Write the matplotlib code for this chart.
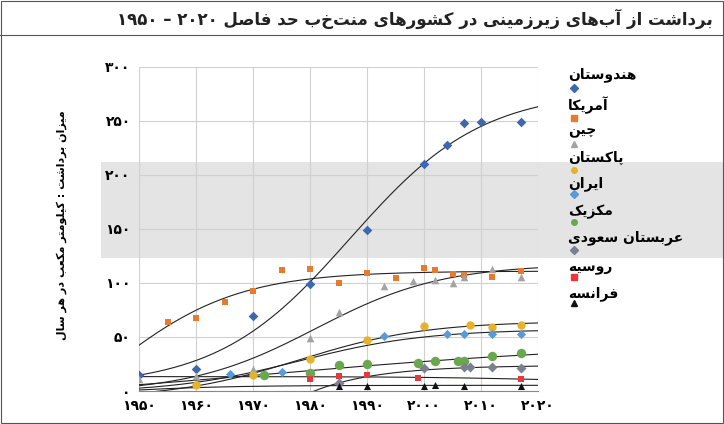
import numpy as np
import matplotlib
matplotlib.use("Agg")
import matplotlib.pyplot as plt
from matplotlib.patches import Rectangle
from matplotlib.lines import Line2D

# ---------- minimal Persian shaping ----------
FORMS = {
 'ا':(0xFE8D,0xFE8E,None,None),'آ':(0xFE81,0xFE82,None,None),
 'ب':(0xFE8F,0xFE90,0xFE91,0xFE92),'پ':(0xFB56,0xFB57,0xFB58,0xFB59),
 'ت':(0xFE95,0xFE96,0xFE97,0xFE98),'ج':(0xFE9D,0xFE9E,0xFE9F,0xFEA0),
 'چ':(0xFB7A,0xFB7B,0xFB7C,0xFB7D),'ح':(0xFEA1,0xFEA2,0xFEA3,0xFEA4),
 'د':(0xFEA9,0xFEAA,None,None),'ر':(0xFEAD,0xFEAE,None,None),
 'ز':(0xFEAF,0xFEB0,None,None),'س':(0xFEB1,0xFEB2,0xFEB3,0xFEB4),
 'ش':(0xFEB5,0xFEB6,0xFEB7,0xFEB8),'ص':(0xFEB9,0xFEBA,0xFEBB,0xFEBC),
 'ع':(0xFEC9,0xFECA,0xFECB,0xFECC),'ف':(0xFED1,0xFED2,0xFED3,0xFED4),
 'ق':(0xFED5,0xFED6,0xFED7,0xFED8),'ک':(0xFB8E,0xFB8F,0xFB90,0xFB91),
 'گ':(0xFB92,0xFB93,0xFB94,0xFB95),'ل':(0xFEDD,0xFEDE,0xFEDF,0xFEE0),
 'م':(0xFEE1,0xFEE2,0xFEE3,0xFEE4),'ن':(0xFEE5,0xFEE6,0xFEE7,0xFEE8),
 'و':(0xFEED,0xFEEE,None,None),'ه':(0xFEE9,0xFEEA,0xFEEB,0xFEEC),
 'ی':(0xFBFC,0xFBFD,0xFBFE,0xFBFF),
}
def _shape_word(w):
    out = []
    n = len(w)
    for i, c in enumerate(w):
        if c not in FORMS:
            if c != '\u200c':
                out.append(c)
            continue
        iso, fin, ini, med = FORMS[c]
        prev = w[i-1] if i > 0 else None
        nxt = w[i+1] if i < n-1 else None
        jp = prev in FORMS and FORMS[prev][2] is not None
        jn = nxt in FORMS and ini is not None
        if jp and jn: f = med
        elif jp: f = fin
        elif jn: f = ini
        else: f = iso
        out.append(chr(f))
    return ''.join(out)
def fa(s):
    runs, cur, isd = [], '', None
    for ch in s:
        d = ch in '۰۱۲۳۴۵۶۷۸۹0123456789'
        if isd is None or d == isd:
            cur += ch
        else:
            runs.append((cur, isd)); cur = ch
        isd = d
    if cur: runs.append((cur, isd))
    vis = []
    for t, d in reversed(runs):
        vis.append(t if d else _shape_word(t)[::-1])
    return ''.join(vis)
def pdig(n):
    return ''.join('۰۱۲۳۴۵۶۷۸۹'[int(c)] for c in str(n))

# ---------- data ----------
india_x = [1950,1960,1970,1980,1990,2000,2004,2007,2010,2017]
india_y = [15,20,69,99,149,210,228,248,249,249]
us_x = [1955,1960,1965,1970,1975,1980,1985,1990,1995,2000,2002,2005,2007,2012,2017]
us_y = [64,68,82,93,112,113,100,109,105,114,112,108,107,106,111]
china_x = [1950,1960,1970,1980,1985,1993,1998,2002,2005,2007,2012,2017]
china_y = [11,14,20,49,73,97,102,103,100,106,113,106]
pak_x = [1960,1970,1980,1990,2000,2008,2012,2017]
pak_y = [6,15,30,47,60,61,59,61]
iran_x = [1966,1975,1993,2004,2007,2012,2017]
iran_y = [16,18,51,53,53,53,53]
mex_x = [1972,1980,1985,1990,1999,2002,2006,2007,2012,2017]
mex_y = [15,17,24,25,26,28,28,28,32,35]
saudi_x = [1985,2000,2007,2008,2012,2017]
saudi_y = [7,21,22,22,22,21]
russia_x = [1980,1985,1990,1999,2017]
russia_y = [11,14,15,12,11]
france_x = [1985,1990,2000,2002,2007,2017]
france_y = [5,5,5,6,5,5]

names = ['هندوستان','آمریکا','چین','پاکستان','ایران','مکزیک','عربستان سعودی','روسیه','فرانسه']
series = [(india_x,india_y),(us_x,us_y),(china_x,china_y),(pak_x,pak_y),(iran_x,iran_y),
          (mex_x,mex_y),(saudi_x,saudi_y),(russia_x,russia_y),(france_x,france_y)]
colors = ['#3d68b0','#e87a2e','#a3a3a3','#e6b22c','#5b9bd5','#6aa84f','#7a8090','#e8383d','#111111']
markers = ['D','s','^','o','D','o','D','s','^']
msizes = [24,24,30,36,22,46,26,14,26]
xticks = [1950,1960,1970,1980,1990,2000,2010,2020]
yticks = [0,50,100,150,200,250,300]

def logistic_fit(x, y):
    x = np.asarray(x, float); y = np.asarray(y, float)
    best = None
    for k in np.linspace(0.03, 0.09, 31):
        for x0 in np.linspace(1940, 2020, 81):
            s = 1/(1+np.exp(-k*(x-x0)))
            A = np.vstack([np.ones_like(s), s]).T
            coef, *_ = np.linalg.lstsq(A, y, rcond=None)
            err = np.sum((A@coef - y)**2)
            if best is None or err < best[0]:
                best = (err, k, x0, coef)
    _, k, x0, coef = best
    return lambda t: coef[0] + coef[1]/(1+np.exp(-k*(t-x0)))

# ---------- figure ----------
plt.rcParams['font.family'] = ['DejaVu Sans']
fig = plt.figure(figsize=(7.24, 4.24), dpi=100)
fig.patches.append(Rectangle((0.14, (424-258)/424), 0.86, 96/424, transform=fig.transFigure,
                             facecolor='#e4e4e4', edgecolor='none', zorder=-5))
fig.patches.append(Rectangle((0.002, 0.002), 0.996, 0.996, transform=fig.transFigure,
                             facecolor='none', edgecolor='#555555', lw=0.8))
fig.add_artist(Line2D([0.0, 1.0], [1-35/424, 1-35/424], transform=fig.transFigure,
                      color='#555555', lw=0.8))
fig.text(0.985, 1-19/424, fa('برداشت از آب\u200cهای زیرزمینی در کشورهای منتخب حد فاصل ۲۰۲۰ – ۱۹۵۰'),
         ha='right', va='center', fontsize=12, fontweight='bold', color='#222222')

ax = fig.add_axes([139/724, 33/424, 399/724, 324/424])
ax.set_facecolor('none')
tt = np.linspace(1950, 2020, 300)
for (x, y), c, m, s in zip(series, colors, markers, msizes):
    f = logistic_fit(x, y)
    ax.plot(tt, f(tt), color='#222222', lw=0.8, zorder=2)
    ax.scatter(x, y, color=c, marker=m, s=s, zorder=3, linewidths=0)
ax.set_xlim(1950, 2020)
ax.set_ylim(0, 300)
ax.set_xticks(xticks)
ax.set_xticklabels([pdig(v) for v in xticks], fontweight='bold', fontsize=10)
ax.set_yticks(yticks)
ax.set_yticklabels([pdig(v) for v in yticks], fontweight='bold', fontsize=10)
ax.grid(True, color='#d0d0d0', lw=0.8)
ax.tick_params(length=0, pad=6)
for sp in ['top', 'right', 'left']:
    ax.spines[sp].set_visible(False)
ax.spines['bottom'].set_color('#888888')
fig.text(62/724, 1-225/424, fa('میزان برداشت : کیلومتر مکعب در هر سال'), rotation=90,
         ha='center', va='center', fontsize=8, fontweight='bold')

lab_y = [75,105,131,158,184,212,238,268,294]
mk_y = [88,118,144,170,194,222,250,277,303]
for n, c, m, ly, my in zip(names, colors, markers, lab_y, mk_y):
    fig.text(568/724, 1-ly/424, fa(n), ha='left', va='center', fontsize=10, fontweight='bold')
    fig.add_artist(Line2D([574/724], [1-my/424], transform=fig.transFigure, marker=m,
                          color=c, markersize=4, linestyle='none'))

fig.savefig('out.png', dpi=100)
